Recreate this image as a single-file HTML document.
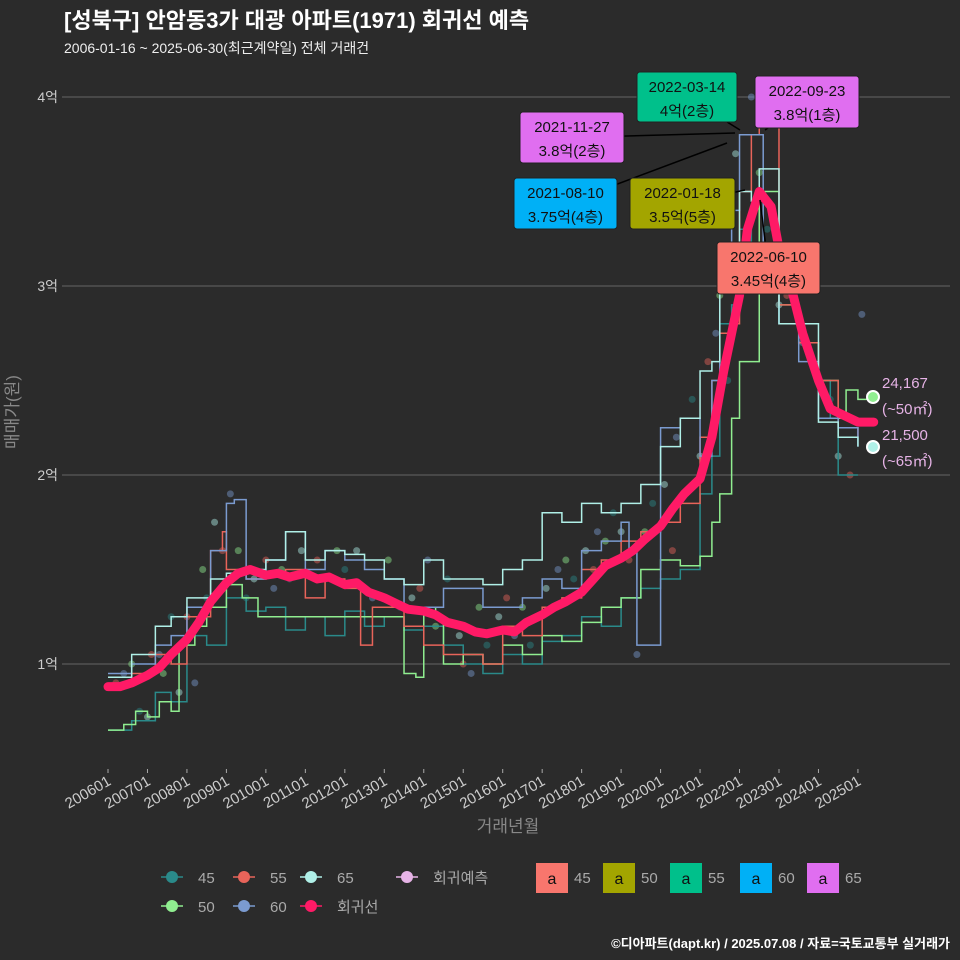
<!DOCTYPE html>
<html><head><meta charset="utf-8">
<style>
body{margin:0;background:#2b2b2b;}
svg{display:block;font-family:"Liberation Sans","Noto Sans CJK KR",sans-serif;}
</style></head>
<body>
<svg id="c" width="960" height="960" viewBox="0 0 960 960">
<rect width="960" height="960" fill="#2b2b2b"/>
<text x="64" y="28" font-size="22" font-weight="bold" fill="#fff">[성북구] 안암동3가 대광 아파트(1971) 회귀선 예측</text>
<text x="64" y="53" font-size="14" fill="#eee">2006-01-16 ~ 2025-06-30(최근계약일) 전체 거래건</text>
<g id="grid"></g>
<g id="marks"></g>
<g id="ann"></g>
<text x="18" y="412" font-size="17" fill="#888" transform="rotate(-90 18 412)" text-anchor="middle">매매가(원)</text>
<text x="508" y="832" font-size="17" fill="#888" text-anchor="middle">거래년월</text>
<g id="legend"></g>
<text x="950" y="948" font-size="13" font-weight="bold" fill="#fff" text-anchor="end">©디아파트(dapt.kr) / 2025.07.08 / 자료=국토교통부 실거래가</text>
</svg>
<script>
const NS="http://www.w3.org/2000/svg";
const yTicks=[1,2,3,4];
const yTickLabels=["1억","2억","3억","4억"];
const xTickYears=[2006,2007,2008,2009,2010,2011,2012,2013,2014,2015,2016,2017,2018,2019,2020,2021,2022,2023,2024,2025];
const xTickLabels=["200601","200701","200801","200901","201001","201101","201201","201301","201401","201501","201601","201701","201801","201901","202001","202101","202201","202301","202401","202501"];
const regYears=[2006,2006.3,2006.6,2007,2007.3,2007.6,2008,2008.3,2008.6,2009,2009.3,2009.6,2010,2010.3,2010.6,2011,2011.3,2011.6,2012,2012.3,2012.6,2013,2013.3,2013.6,2014,2014.3,2014.6,2015,2015.3,2015.6,2016,2016.3,2016.6,2017,2017.3,2017.6,2018,2018.3,2018.6,2019,2019.3,2019.6,2020,2020.3,2020.6,2021,2021.3,2021.6,2022,2022.2,2022.5,2022.8,2023,2023.3,2023.6,2024,2024.3,2024.6,2025,2025.4];
const regValues=[0.88,0.88,0.9,0.94,0.98,1.05,1.13,1.22,1.33,1.43,1.48,1.5,1.47,1.48,1.46,1.48,1.45,1.46,1.42,1.43,1.38,1.35,1.32,1.29,1.28,1.26,1.22,1.2,1.17,1.16,1.18,1.17,1.22,1.26,1.3,1.33,1.38,1.45,1.52,1.56,1.6,1.66,1.73,1.82,1.9,1.98,2.2,2.55,2.95,3.3,3.5,3.42,3.2,3.0,2.75,2.5,2.35,2.32,2.28,2.28];
const s45Years=[2006,2006.6,2007.2,2007.6,2008,2008.5,2009,2009.5,2010,2010.5,2011,2011.5,2012,2012.5,2013,2013.5,2014,2014.5,2015,2015.5,2016,2016.5,2017,2017.5,2018,2018.5,2019,2019.5,2020,2020.5,2021,2021.3,2021.5,2021.8,2022,2022.3,2022.6,2023,2023.5,2024,2024.3,2024.5,2025];
const s45Values=[0.65,0.7,0.85,0.8,1.15,1.1,1.35,1.28,1.3,1.18,1.25,1.15,1.28,1.2,1.25,1.18,1.2,1.1,1.0,0.95,1.05,1.0,1.12,1.15,1.25,1.2,1.35,1.4,1.45,1.5,1.9,2.1,2.8,2.9,3.3,3.0,3.1,2.8,2.7,2.5,2.3,2.0,2.0];
const s50Years=[2006,2006.4,2006.7,2007,2007.3,2007.6,2007.8,2008.2,2008.5,2009,2009.4,2009.8,2013.5,2013.8,2014,2014.3,2014.5,2015,2015.5,2016,2016.5,2017,2017.5,2018,2018.5,2019,2019.5,2020,2020.5,2021,2021.3,2021.5,2021.8,2022,2022.5,2023,2023.5,2024,2024.5,2024.7,2025,2025.4];
const s50Values=[0.65,0.68,0.75,0.72,0.8,0.75,1.1,1.2,1.3,1.42,1.35,1.25,0.95,0.93,1.3,1.25,1.0,1.05,1.0,1.1,1.05,1.15,1.12,1.22,1.3,1.35,1.5,1.55,1.52,1.57,1.75,1.9,2.3,2.6,3.5,2.9,2.7,2.5,2.3,2.45,2.4,2.42];
const s55Years=[2006,2006.6,2007.2,2007.6,2008,2008.6,2008.9,2009,2009.5,2010,2010.5,2011,2011.5,2012,2012.4,2012.7,2013,2013.5,2014,2014.5,2015,2015.5,2016,2016.5,2017,2017.5,2018,2018.5,2019,2019.5,2020,2020.5,2021,2021.3,2021.5,2021.8,2022,2022.3,2022.5,2023,2023.5,2024,2024.5,2025];
const s55Values=[0.88,0.95,1.05,1.0,1.25,1.6,1.7,1.5,1.45,1.48,1.5,1.35,1.45,1.4,1.1,1.3,1.3,1.2,1.1,1.05,1.05,1.0,1.2,1.15,1.3,1.35,1.5,1.55,1.65,1.7,1.75,1.85,2.2,2.5,2.75,2.8,3.5,3.8,3.9,2.9,2.7,2.5,2.25,2.2];
const s60Years=[2006,2006.6,2007.2,2007.6,2008,2008.6,2009,2009.2,2009.5,2010,2010.5,2011,2011.5,2012,2012.5,2013,2013.5,2014,2014.5,2015,2015.5,2016,2016.5,2017,2017.5,2018,2018.5,2019,2019.2,2019.4,2020,2020.5,2021,2021.3,2021.5,2021.8,2022,2022.6,2023,2023.5,2024,2024.5,2025];
const s60Values=[0.95,1.0,1.1,1.15,1.3,1.6,1.85,1.87,1.45,1.55,1.7,1.5,1.6,1.55,1.5,1.45,1.3,1.3,1.4,1.4,1.3,1.3,1.35,1.45,1.4,1.6,1.65,1.75,1.6,1.1,2.25,2.3,2.1,2.5,3.1,3.4,3.8,3.2,2.8,2.6,2.3,2.25,2.15];
const s65Years=[2006,2006.6,2007.2,2007.6,2008,2008.6,2009,2009.5,2010,2010.5,2011,2011.5,2012,2012.5,2013,2013.5,2014,2014.5,2015,2015.5,2016,2016.5,2017,2017.5,2018,2018.5,2019,2019.5,2020,2020.5,2021,2021.3,2021.5,2021.8,2022,2022.3,2022.5,2023,2023.5,2024,2024.5,2025];
const s65Values=[0.93,1.05,1.2,1.25,1.35,1.45,1.48,1.5,1.55,1.7,1.55,1.6,1.58,1.55,1.45,1.42,1.55,1.45,1.45,1.42,1.5,1.55,1.8,1.75,1.85,1.8,1.85,1.95,2.15,2.3,2.55,2.6,3.0,3.2,3.5,3.45,3.62,2.8,2.8,2.28,2.2,2.15];
const dotYears=[2006.2,2006.4,2006.6,2006.8,2007.0,2007.1,2007.3,2007.4,2007.6,2007.8,2008.0,2008.2,2008.4,2008.5,2008.7,2008.9,2009.1,2009.3,2009.5,2009.7,2010.0,2010.2,2010.4,2010.6,2010.9,2011.3,2011.5,2011.8,2012.0,2012.3,2012.5,2012.7,2013.1,2013.4,2013.7,2013.9,2014.1,2014.3,2014.6,2014.9,2015.0,2015.2,2015.4,2015.6,2015.9,2016.1,2016.3,2016.5,2016.7,2017.1,2017.3,2017.4,2017.6,2017.8,2018.1,2018.3,2018.4,2018.6,2018.8,2019.0,2019.2,2019.4,2019.6,2019.8,2020.1,2020.3,2020.4,2020.6,2020.8,2021.0,2021.2,2021.4,2021.5,2021.7,2021.9,2022.1,2022.3,2022.5,2022.7,2023.0,2023.2,2023.6,2024.0,2024.3,2024.5,2024.8,2025.1];
const dotValues=[0.9,0.95,1.0,0.75,0.72,1.05,1.05,0.95,1.25,0.85,1.25,0.9,1.5,1.35,1.75,1.6,1.9,1.6,1.35,1.45,1.55,1.4,1.5,1.45,1.6,1.55,1.45,1.6,1.5,1.6,1.4,1.35,1.55,1.3,1.35,1.4,1.55,1.2,1.45,1.15,1.0,0.95,1.3,1.1,1.25,1.35,1.15,1.3,1.1,1.4,1.3,1.5,1.55,1.45,1.6,1.5,1.7,1.65,1.8,1.7,1.55,1.05,1.7,1.85,1.95,1.6,2.2,1.9,2.4,2.1,2.6,2.75,2.95,2.5,3.7,3.0,4.0,3.6,3.3,2.9,2.95,2.7,2.5,2.4,2.1,2.0,2.85];
const dotColors=["#e8645a","#7b9bd0","#90ee90","#2a8a8a","#b0f0e8"];

const X0=108,XPY=39.47;
const xs=y=>X0+(y-2006)*XPY;
const ys=v=>664-(v-1)*189;
function el(tag,attrs,parent){const e=document.createElementNS(NS,tag);for(const k in attrs)e.setAttribute(k,attrs[k]);parent.appendChild(e);return e;}
const grid=document.getElementById('grid'),marks=document.getElementById('marks'),ann=document.getElementById('ann'),leg=document.getElementById('legend');
yTicks.forEach((t,i)=>{
  const l=el('line',{x1:62,x2:950,y1:ys(t),y2:ys(t),stroke:'#666','stroke-width':1},grid);
  
  
  const tx=el('text',{x:58,y:ys(t)+5,'font-size':14,fill:'#ccc','text-anchor':'end'},grid);
  tx.textContent=yTickLabels[i];
  
  
});
xTickYears.forEach((yr,i)=>{
  const x=xs(yr);
  const t=el('line',{x1:x,x2:x,y1:769,y2:773,stroke:'#aaa'},grid);
  
  
  const tx=el('text',{x:x+4,y:784,'font-size':15,fill:'#ccc','text-anchor':'end',transform:`rotate(-30 ${x+4} 784)`},grid);
  tx.textContent=xTickLabels[i];
  
  
});
dotYears.forEach((yr,i)=>{
  const c=el('circle',{cx:xs(yr),cy:ys(dotValues[i]),r:3.5,fill:dotColors[i%5],opacity:0.45},marks);
  
  
});
function stepPath(yrs,vals){let d='';yrs.forEach((yr,i)=>{const x=xs(yr),y=ys(vals[i]);if(i===0)d+=`M${x},${y}`;else d+=`H${x}V${y}`;});return d;}
const series=[[s45Years,s45Values,'#2a8a8a','area-45-line'],[s50Years,s50Values,'#90ee90','area-50-line'],[s55Years,s55Values,'#e8645a','area-55-line'],[s60Years,s60Values,'#7b9bd0','area-60-line'],[s65Years,s65Values,'#b0f0e8','area-65-line']];
series.forEach(s=>{
  const p=el('path',{d:stepPath(s[0],s[1]),fill:'none',stroke:s[2],'stroke-width':1.5},marks);
  
  
});
let rd='';regYears.forEach((yr,i)=>{rd+=(i?'L':'M')+xs(yr)+','+ys(regValues[i]);});
const rp=el('path',{d:rd,fill:'none',stroke:'#ff1a66','stroke-width':9,'stroke-linejoin':'round','stroke-linecap':'round'},marks);


const pc1=el('circle',{cx:873,cy:397,r:6,fill:'#90ee90',stroke:'#fff','stroke-width':2},marks);


const pc2=el('circle',{cx:873,cy:447,r:6,fill:'#b0f0e8',stroke:'#fff','stroke-width':2},marks);


[[882,388,'24,167'],[882,414,'(~50㎡)'],[882,440,'21,500'],[882,466,'(~65㎡)']].forEach(a=>{
  const t=el('text',{x:a[0],y:a[1],'font-size':15,fill:'#e6b3e6'},marks);t.textContent=a[2];
  
  
});
const anns=[[637,72,100,50,'#00c08b','2022-03-14','4억(2층)',740,130],[755,76,104,52,'#e06ef0','2022-09-23','3.8억(1층)',765,130],[520,112,104,51,'#e06ef0','2021-11-27','3.8억(2층)',735,133],[514,178,103,51,'#00b0f6','2021-08-10','3.75억(4층)',727,143],[630,178,105,51,'#a3a500','2022-01-18','3.5억(5층)',745,190],[717,242,103,52,'#f8766d','2022-06-10','3.45억(4층)',760,200]];
anns.forEach(a=>{
  const l=el('line',{x1:a[0]+a[2]/2,y1:a[1]+a[3]/2,x2:a[7],y2:a[8],stroke:'#000','stroke-width':1.5},ann);
  
  
});
anns.forEach(a=>{
  const r=el('rect',{x:a[0],y:a[1],width:a[2],height:a[3],rx:3,fill:a[4],stroke:'#222'},ann);
  
  
  const t1=el('text',{x:a[0]+a[2]/2,y:a[1]+20,'font-size':15,fill:'#111','text-anchor':'middle'},ann);t1.textContent=a[5];
  
  
  const t2=el('text',{x:a[0]+a[2]/2,y:a[1]+44,'font-size':15,fill:'#111','text-anchor':'middle'},ann);t2.textContent=a[6];
  
  
});
const lgItems=[[172,877,'#2a8a8a','45'],[244,877,'#e8645a','55'],[311,877,'#b0f0e8','65'],[407,877,'#e6b3e6','회귀예측'],[172,906,'#90ee90','50'],[244,906,'#7b9bd0','60'],[311,906,'#ff1a66','회귀선']];
lgItems.forEach(it=>{
  const g=el('g',{},leg);
  
  
  el('line',{x1:it[0]-11,x2:it[0]+11,y1:it[1],y2:it[1],stroke:it[2],'stroke-width':1.5},g);
  el('circle',{cx:it[0],cy:it[1],r:6,fill:it[2]},g);
  const t=el('text',{x:it[0]+26,y:it[1]+6,'font-size':15,fill:'#aaa'},g);t.textContent=it[3];
});
const boxItems=[[536,'#f8766d','45'],[603,'#a3a500','50'],[670,'#00c08b','55'],[740,'#00b0f6','60'],[807,'#e06ef0','65']];
boxItems.forEach(it=>{
  const g=el('g',{},leg);
  
  
  el('rect',{x:it[0],y:863,width:32,height:30,fill:it[1]},g);
  const a=el('text',{x:it[0]+16,y:884,'font-size':16,fill:'#111','text-anchor':'middle'},g);a.textContent='a';
  const t=el('text',{x:it[0]+38,y:883,'font-size':15,fill:'#aaa'},g);t.textContent=it[2];
});
</script>
</body></html>
